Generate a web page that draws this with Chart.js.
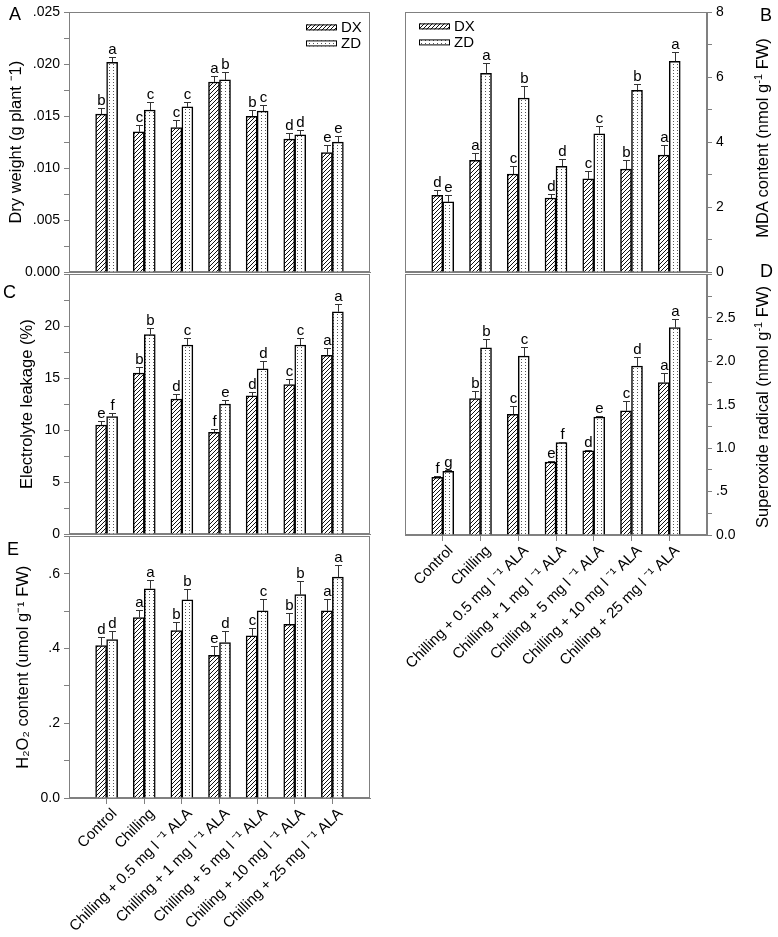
<!DOCTYPE html>
<html><head><meta charset="utf-8">
<script src="https://cdn.jsdelivr.net/npm/chart.js@4.4.1/dist/chart.umd.min.js"></script>
<style>
body{margin:0;background:#fff;width:778px;height:937px;position:relative;overflow:hidden;font-family:"Liberation Sans",Arial,sans-serif;}
.pane{position:absolute;}
.pane canvas{display:block;}
.letter{position:absolute;font-size:18px;line-height:18px;color:#000;}
.rtitle{position:absolute;font-size:16.5px;line-height:16px;white-space:nowrap;transform:translate(-50%,-50%) rotate(-90deg);color:#000;}
.rtitle sup{font-size:11px;vertical-align:6px;line-height:0;}
</style></head><body>
<div class="pane" style="left:0;top:0"><canvas id="cA" width="390" height="290"></canvas></div>
<div class="pane" style="left:388px;top:0"><canvas id="cB" width="390" height="290"></canvas></div>
<div class="pane" style="left:0;top:262px"><canvas id="cC" width="390" height="290"></canvas></div>
<div class="pane" style="left:388px;top:262px"><canvas id="cD" width="390" height="440"></canvas></div>
<div class="pane" style="left:0;top:524px"><canvas id="cE" width="390" height="413"></canvas></div>
<div class="letter" style="left:9px;top:5px">A</div>
<div class="letter" style="left:760px;top:6px">B</div>
<div class="letter" style="left:3px;top:283px">C</div>
<div class="letter" style="left:760px;top:262px">D</div>
<div class="letter" style="left:7px;top:540px">E</div>
<div class="rtitle" style="left:762px;top:138px">MDA content (nmol g<sup>-1</sup> FW)</div>
<div class="rtitle" style="left:762px;top:407px">Superoxide radical (nmol g<sup>-1</sup> FW)</div>
<script>
// ---------- data ----------
const categories = ['Control','Chilling','Chilling + 0.5 mg l \u207B\u00B9 ALA','Chilling + 1 mg l \u207B\u00B9 ALA','Chilling + 5 mg l \u207B\u00B9 ALA','Chilling + 10 mg l \u207B\u00B9 ALA','Chilling + 25 mg l \u207B\u00B9 ALA'];
const seriesNames = ['DX','ZD'];

// A: dry weight
const dryDX    = [0.0152,0.0135,0.0139,0.0183,0.0150,0.0128,0.0115];
const dryZD    = [0.0202,0.0156,0.0159,0.0185,0.0155,0.0132,0.0125];
const dryDXErr = [0.0006,0.0007,0.0007,0.0006,0.0006,0.0006,0.0007];
const dryZDErr = [0.0005,0.0008,0.0005,0.0008,0.0006,0.0005,0.0006];
const dryDXSig = ['b','c','c','a','b','d','e'];
const dryZDSig = ['a','c','c','b','c','d','e'];
const dryTicks = ['0.000','.005','.010','.015','.020','.025'];

// B: MDA content
const mdaDX    = [2.36,3.44,3.02,2.28,2.87,3.17,3.60];
const mdaZD    = [2.16,6.12,5.36,3.26,4.26,5.60,6.49];
const mdaDXErr = [0.16,0.22,0.24,0.12,0.23,0.28,0.32];
const mdaZDErr = [0.20,0.32,0.36,0.23,0.25,0.20,0.29];
const mdaDXSig = ['d','a','c','d','c','b','a'];
const mdaZDSig = ['e','a','b','d','c','b','a'];
const mdaTicks = ['0','2','4','6','8'];

// C: electrolyte leakage
const elDX    = [10.5,15.5,13.0,9.8,13.3,14.4,17.2];
const elZD    = [11.3,19.2,18.2,12.5,15.9,18.2,21.4];
const elDXErr = [0.40,0.55,0.45,0.28,0.41,0.50,0.76];
const elZDErr = [0.35,0.67,0.67,0.45,0.77,0.66,0.73];
const elDXSig = ['e','b','d','f','d','c','a'];
const elZDSig = ['f','b','c','e','d','c','a'];
const elTicks = ['0','5','10','15','20',''];

// D: superoxide radical
const supDX    = [0.665,1.57,1.39,0.84,0.97,1.43,1.756];
const supZD    = [0.733,2.155,2.06,1.064,1.357,1.946,2.387];
const supDXErr = [0.01,0.09,0.10,0.01,0.01,0.11,0.11];
const supZDErr = [0.01,0.10,0.10,0.01,0.01,0.10,0.10];
const supDXSig = ['f','b','c','e','d','c','a'];
const supZDSig = ['g','b','c','f','e','d','a'];
const supTicks = ['0.0','.5','1.0','1.5','2.0','2.5',''];

// E: H2O2 content
const h2DX    = [0.408,0.483,0.448,0.382,0.434,0.465,0.501];
const h2ZD    = [0.424,0.560,0.530,0.416,0.501,0.544,0.591];
const h2DXErr = [0.023,0.020,0.022,0.026,0.022,0.029,0.031];
const h2ZDErr = [0.024,0.023,0.029,0.031,0.031,0.036,0.033];
const h2DXSig = ['d','a','b','e','c','b','a'];
const h2ZDSig = ['d','a','b','d','c','b','a'];
const h2Ticks = ['0.0','.2','.4','.6'];

// ---------- styling ----------
const FONT = "'Liberation Sans', Arial, sans-serif";
const AXIS = '#808080';
Chart.defaults.font.family = FONT;

function hatchPattern(ctx){
  const c=document.createElement('canvas'); c.width=4; c.height=4;
  const g=c.getContext('2d'); g.fillStyle='#fff'; g.fillRect(0,0,4,4);
  g.fillStyle='#111'; for(let i=0;i<4;i++) g.fillRect(i,3-i,1,1);
  return ctx.createPattern(c,'repeat');
}
function dotPattern(ctx){
  const c=document.createElement('canvas'); c.width=4; c.height=3;
  const g=c.getContext('2d'); g.fillStyle='#fff'; g.fillRect(0,0,4,3);
  g.fillStyle='#555'; g.fillRect(1,1,1,1);
  return ctx.createPattern(c,'repeat');
}
const pad = a => [null, ...a, null];

const framePlugin = {
  id:'frame',
  beforeDatasetsDraw(chart){
    const {ctx, chartArea:a} = chart;
    ctx.save(); ctx.strokeStyle=AXIS; ctx.lineWidth=1;
    ctx.strokeRect(Math.round(a.left)+0.5, Math.round(a.top)+0.5, Math.round(a.right-a.left)-1, Math.round(a.bottom-a.top)-1);
    ctx.restore();
  }
};
const errPlugin = {
  id:'sigErr',
  afterDatasetsDraw(chart, args, opts){
    const {ctx} = chart; const ys = chart.scales.y;
    ctx.save();
    chart.data.datasets.forEach((ds, d) => {
      const meta = chart.getDatasetMeta(d);
      meta.data.forEach((el, i) => {
        const v = ds.data[i]; if (v == null) return;
        const e = opts.err[d][i-1], s = opts.sig[d][i-1];
        const x = Math.round(el.x)+0.5;
        const y0 = ys.getPixelForValue(v), y1 = Math.round(ys.getPixelForValue(v+e))+0.5;
        ctx.strokeStyle='#333'; ctx.lineWidth=1;
        ctx.beginPath(); ctx.moveTo(x, y0); ctx.lineTo(x, y1);
        ctx.moveTo(x-3.5, y1); ctx.lineTo(x+3.5, y1); ctx.stroke();
        ctx.fillStyle='#000'; ctx.font = "15px " + FONT; ctx.textAlign='center'; ctx.textBaseline='alphabetic';
        ctx.fillText(s, x, y1-4);
      });
    });
    ctx.restore();
  }
};
const legendPlugin = {
  id:'boxLegend',
  afterDraw(chart, args, opts){
    if (!opts.show) return;
    const {ctx, chartArea:a} = chart;
    const bx = opts.side==='right' ? a.right - opts.dx : a.left + opts.dx;
    ctx.save();
    chart.data.datasets.forEach((ds, d) => {
      const by = a.top + opts.dy + d*16;
      ctx.fillStyle = ds.backgroundColor; ctx.fillRect(bx, by, 31, 6);
      ctx.strokeStyle='#000'; ctx.lineWidth=1; ctx.strokeRect(bx+0.5, by+0.5, 30, 5);
      ctx.fillStyle='#000'; ctx.font="15px "+FONT; ctx.textAlign='left'; ctx.textBaseline='middle';
      ctx.fillText(ds.label, bx+35, by+3.5);
    });
    ctx.restore();
  }
};

function makeChart(id, c){
  const canvas = document.getElementById(id);
  const ctx = canvas.getContext('2d');
  const showX = !!c.showX;
  return new Chart(ctx, {
    type:'bar',
    data:{
      labels: ['', ...categories, ''],
      datasets:[
        {label:seriesNames[0], data:pad(c.dx), backgroundColor:hatchPattern(ctx), borderColor:'#000', borderWidth:1.5, barThickness:11, borderSkipped:'start'},
        {label:seriesNames[1], data:pad(c.zd), backgroundColor:dotPattern(ctx), borderColor:'#000', borderWidth:1.5, barThickness:11, borderSkipped:'start'}
      ]
    },
    plugins:[framePlugin, errPlugin, legendPlugin],
    options:{
      responsive:false, animation:false, events:[],
      layout:{padding:{left:c.pl, right:c.pr, top:c.pt, bottom:0}, autoPadding:false},
      plugins:{
        legend:{display:false}, tooltip:{enabled:false},
        sigErr:{err:c.err, sig:c.sig},
        boxLegend:c.legend || {show:false}
      },
      scales:{
        x:{
          type:'category', offset:false,
          grid:{offset:false, drawOnChartArea:false, drawTicks:showX, tickLength:6,
                color:(g)=> (g.index===0||g.index===8) ? 'rgba(0,0,0,0)' : AXIS},
          border:{color:AXIS},
          ticks:{display:showX, autoSkip:false, minRotation:45, maxRotation:45, padding:1, labelOffset:8,
                 color:'#000', font:{size:15, family:FONT}},
          afterFit(s){ s.height = c.hx; }
        },
        y:{
          position:c.side, min:c.min, max:c.max,
          grid:{drawOnChartArea:false, drawTicks:true, tickLength:5, color:AXIS},
          border:{color:AXIS},
          ticks:{stepSize:c.minor, autoSkip:false, maxTicksLimit:100, padding:4, color:'#000',
                 font:{size:14, family:FONT},
                 callback:(v)=>{ const k=v/c.major, r=Math.round(k);
                   return Math.abs(k-r)<1e-6 && r < c.labels.length ? c.labels[r] : ''; }},
          title:{display:c.side==='left', text:c.title||'', color:'#000', font:{size:16.5, family:FONT},
                 padding:{top:c.tp||8, bottom:0}},
          afterFit(s){ s.width = c.wy; }
        }
      }
    }
  });
}

makeChart('cA', {dx:dryDX, zd:dryZD, err:[dryDXErr,dryZDErr], sig:[dryDXSig,dryZDSig],
  min:0, max:0.025, minor:0.0025, major:0.005, labels:dryTicks, side:'left',
  title:'Dry weight (g plant \u207B1)', tp:7, pl:0, pr:20, pt:8, wy:69, hx:18,
  legend:{show:true, side:'right', dx:64, dy:12}});
makeChart('cB', {dx:mdaDX, zd:mdaZD, err:[mdaDXErr,mdaZDErr], sig:[mdaDXSig,mdaZDSig],
  min:0, max:8, minor:1, major:2, labels:mdaTicks, side:'right',
  pl:17, pr:0, pt:8, wy:71, hx:18,
  legend:{show:true, side:'left', dx:14, dy:11}});
makeChart('cC', {dx:elDX, zd:elZD, err:[elDXErr,elZDErr], sig:[elDXSig,elZDSig],
  min:0, max:25, minor:2.5, major:5, labels:elTicks, side:'left',
  title:'Electrolyte leakage (%)', tp:18, pl:0, pr:20, pt:10, wy:69, hx:18});
makeChart('cD', {dx:supDX, zd:supZD, err:[supDXErr,supZDErr], sig:[supDXSig,supZDSig],
  min:0, max:3, minor:0.25, major:0.5, labels:supTicks, side:'right',
  pl:17, pr:0, pt:10, wy:71, hx:167, showX:true});
makeChart('cE', {dx:h2DX, zd:h2ZD, err:[h2DXErr,h2ZDErr], sig:[h2DXSig,h2ZDSig],
  min:0, max:0.7, minor:0.1, major:0.2, labels:h2Ticks, side:'left',
  title:'H\u2082O\u2082 content (umol g\u207B\u00B9 FW)', tp:14, pl:0, pr:20, pt:10, wy:69, hx:139, showX:true});
</script>
</body></html>
